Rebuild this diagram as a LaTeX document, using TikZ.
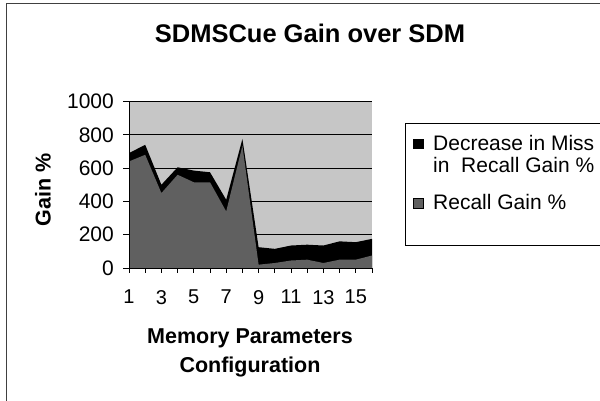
\documentclass[tikz,border=0pt]{standalone}
\usepackage{fontspec}
\setmainfont{Liberation Sans}
\usetikzlibrary{positioning}
\definecolor{plotbg}{HTML}{C6C6C6}
\definecolor{recallgray}{HTML}{606060}
\definecolor{framegray}{HTML}{404040}

\begin{document}
\begin{tikzpicture}[x=1pt, y=-1pt,
    ttl/.style={font=\fontsize{25.5}{30}\selectfont\bfseries, anchor=base, inner sep=0pt},
    axlab/.style={font=\fontsize{21.5}{26}\selectfont\bfseries, inner sep=0pt},
    ytick/.style={font=\fontsize{21}{25}\selectfont, anchor=east, inner sep=0pt},
    xtick/.style={font=\fontsize{20}{24}\selectfont, anchor=north, inner sep=0pt},
    legtxt/.style={font=\fontsize{21}{24}\selectfont, anchor=base west, inner sep=0pt},
    gridln/.style={line width=1pt, black},
    keybox/.style={draw=black, line width=0.6pt, minimum size=9.5pt, inner sep=0pt, anchor=north west},
  ]
    \useasboundingbox (0,0) rectangle (600,401);
    \draw[framegray, line width=1pt] (6,401) -- (6,4) -- (600,4);

    \node[ttl] (title) at (310,43) {SDMSCue Gain over SDM};

    \begin{scope}[shift={(129,268)}, x=16.2pt, y=0.1665pt]
      \fill[plotbg] (0,0) rectangle (15,1000);
      \foreach \v in {200,400,...,1000}
        \draw[gridln] (0,\v) -- (15,\v);
      \fill[black] (0,0) -- plot coordinates {(0,690) (1,740) (2,500) (3,605)
        (4,585) (5,575) (6,410) (7,775) (8,125) (9,115) (10,135) (11,140)
        (12,135) (13,160) (14,155) (15,175)} -- (15,0) -- cycle;
      \fill[recallgray] (0,0) -- plot coordinates {(0,640) (1,680) (2,450) (3,560)
        (4,515) (5,515) (6,340) (7,735) (8,20) (9,30) (10,45) (11,50)
        (12,30) (13,50) (14,50) (15,75)} -- (15,0) -- cycle;
      \draw[gridln] (0,1000) -- (0,0) -- (15,0);
      \foreach \v in {0,200,...,1000} {
        \draw[gridln] (0,\v) -- ++(-6pt,0pt);
        \node[ytick, xshift=-15pt] (yl\v) at (0,\v) {\v};
      }
      \foreach \i in {0,...,15}
        \draw[gridln] (\i,0) -- ++(0pt,-5pt);
      \foreach \i in {0,2,...,14} {
        \pgfmathtruncatemacro\n{\i+1}
        \node[xtick, yshift=-22pt] (xl\n) at (\i,0) {\n};
      }
    \end{scope}

    \node[axlab, rotate=90] (ytitle) at (43,190) {Gain \%};
    \node[axlab, anchor=base] (xtitle) at (250,343) {Memory Parameters};
    \node[axlab, anchor=base] (xtitle2) at (250,372) {Configuration};

    \node[draw=black, line width=0.8pt, minimum width=200pt, minimum height=122pt,
      anchor=north west, inner sep=0pt] (legend) at (405,123) {};
    \node[keybox, fill=black] (keydec) at (413,139) {};
    \node[keybox, fill=recallgray] (keyrec) at (413,198) {};
    \node[legtxt] (legdec) at (433,150) {Decrease in Miss};
    \node[legtxt] (legdec2) at (433,173) {in\ \ Recall Gain \%};
    \node[legtxt] (legrec) at (433,209) {Recall Gain \%};
  \end{tikzpicture}
\end{document}
